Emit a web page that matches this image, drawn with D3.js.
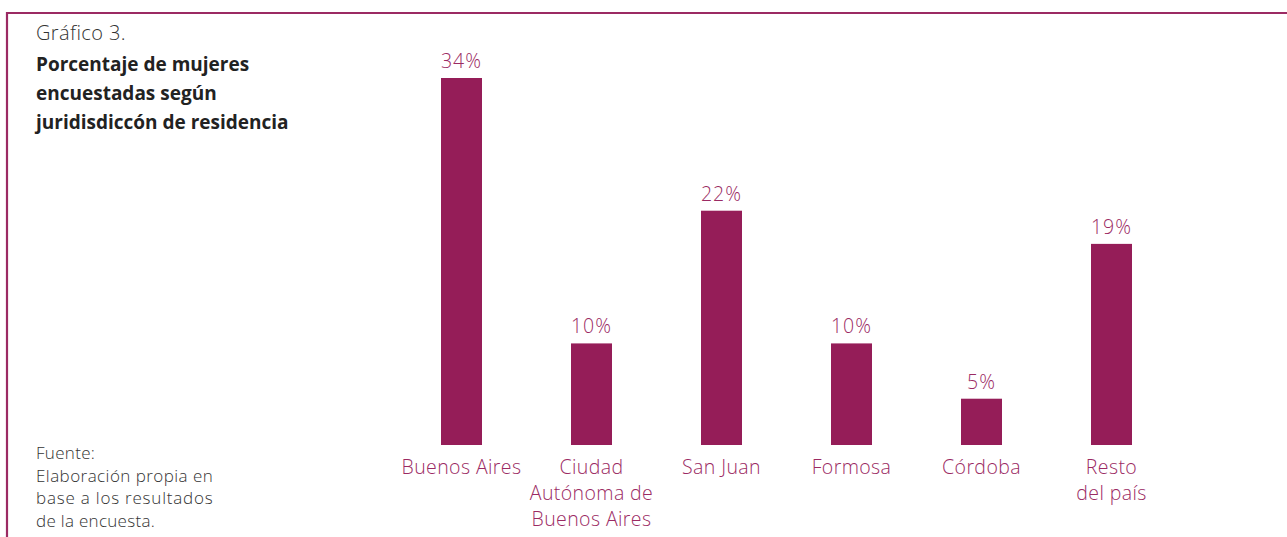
<!DOCTYPE html>
<html>
<head>
<meta charset="utf-8">
<script src="https://cdn.jsdelivr.net/npm/d3@7"></script>
<style>
  html, body { margin: 0; padding: 0; background: #fff; }
  svg { display: block; }
</style>
</head>
<body>
<svg id="chart" width="1287" height="537"></svg>
<script>
const categories = [
  ["Buenos Aires"],
  ["Ciudad", "Autónoma de", "Buenos Aires"],
  ["San Juan"],
  ["Formosa"],
  ["Córdoba"],
  ["Resto", "del país"]
];
const values = [34, 10, 22, 10, 5, 19];
const valueLabels = ["34%", "10%", "22%", "10%", "5%", "19%"];
const chartNumber = "Gráfico 3.";
const titleLines = ["Porcentaje de mujeres", "encuestadas según", "juridisdiccón de residencia"];
const sourceLines = ["Fuente:", "Elaboración propia en", "base a los resultados", "de la encuesta."];
const sourceJustified = [false, true, true, false];

const svg = d3.select("#chart");
const W = 1287, H = 537;
const barColor = "#951d58";
const textColor = "#9b2a63";
const font = "'Open Sans', 'Noto Sans', sans-serif";

// frame
svg.append("line").attr("x1", 7).attr("x2", W).attr("y1", 13).attr("y2", 13)
  .attr("stroke", "#9b2a63").attr("stroke-width", 2.2);
svg.append("line").attr("x1", 7).attr("x2", 7).attr("y1", 12).attr("y2", H)
  .attr("stroke", "#9b2a63").attr("stroke-width", 2.2);

// title
svg.append("text").attr("x", 36).attr("y", 40)
  .attr("font-family", font).attr("font-size", 20).attr("font-weight", 300)
  .attr("letter-spacing", 0.4)
  .attr("fill", "#333").text(chartNumber);
svg.append("g").selectAll("text").data(titleLines).join("text")
  .attr("x", 36).attr("y", (d, i) => 71 + i * 29)
  .attr("font-family", font).attr("font-size", 19).attr("font-weight", 700)
  .attr("fill", "#222").text(d => d);

// source
svg.append("g").selectAll("text").data(sourceLines).join("text")
  .attr("x", 36).attr("y", (d, i) => 459 + i * 22.5)
  .attr("font-family", font).attr("font-size", 17).attr("font-weight", 300)
  .attr("letter-spacing", 0.3)
  .attr("fill", "#333")
  .each(function(d, i) {
    if (sourceJustified[i]) d3.select(this).attr("textLength", 177).attr("lengthAdjust", "spacing");
  })
  .text(d => d);

// scales
const x = d3.scaleBand().domain(d3.range(categories.length))
  .range([396.5, 1176.5]).paddingInner(0.6846).paddingOuter(0.3423);
const y = d3.scaleLinear().domain([0, 34]).range([454, 78]);
const barBottom = 445;

svg.append("g").selectAll("rect").data(values).join("rect")
  .attr("x", (d, i) => x(i))
  .attr("width", x.bandwidth())
  .attr("y", d => y(d))
  .attr("height", d => barBottom - y(d))
  .attr("fill", barColor);

svg.append("g").selectAll("text").data(values).join("text")
  .attr("x", (d, i) => x(i) + x.bandwidth() / 2)
  .attr("y", d => y(d) - 10)
  .attr("text-anchor", "middle")
  .attr("font-family", font).attr("font-size", 19.5).attr("font-weight", 300)
  .attr("letter-spacing", 1)
  .attr("fill", textColor)
  .text((d, i) => valueLabels[i]);

const cat = svg.append("g").selectAll("text").data(categories).join("text")
  .attr("text-anchor", "middle")
  .attr("font-family", font).attr("font-size", 19.5).attr("font-weight", 300)
  .attr("letter-spacing", 0.4)
  .attr("fill", textColor);
cat.selectAll("tspan").data((d, i) => d.map(l => ({l, i}))).join("tspan")
  .attr("x", d => x(d.i) + x.bandwidth() / 2)
  .attr("y", (d, j) => 474 + j * 26)
  .text(d => d.l);
</script>
</body>
</html>
